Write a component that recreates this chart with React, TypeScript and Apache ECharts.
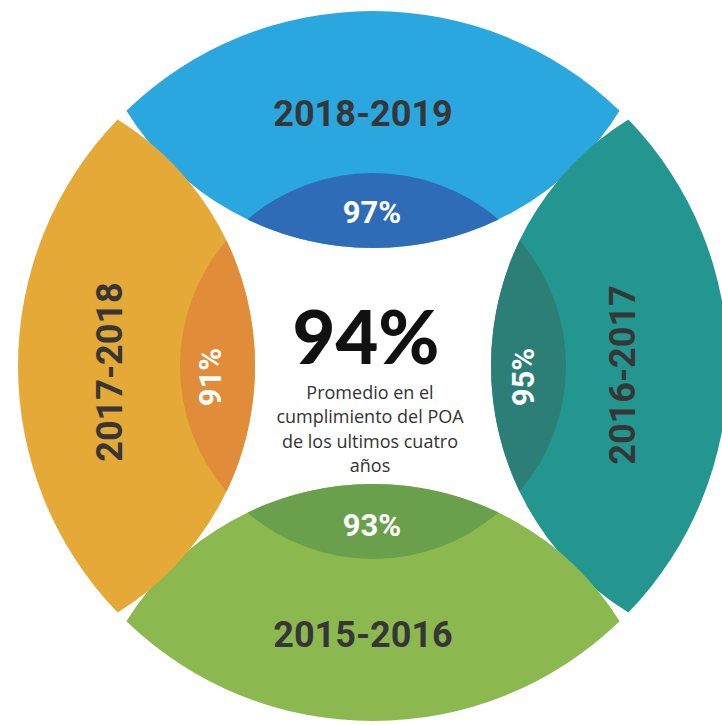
import React, { useEffect, useRef } from 'react';
import * as echarts from 'echarts';

// ---- data ----
const periods = ['2018-2019', '2016-2017', '2015-2016', '2017-2018'];
const compliance = [97, 95, 93, 91];
const average = 94;
const captionLines = ['Promedio en el', 'cumplimiento del POA', 'de los ultimos cuatro', 'años'];

// ---- styles / layout ----
const segmentColors = ['#29a7de', '#23978f', '#8cb94f', '#e5a937'];
const lensColors = ['#2f6cb7', '#2b7f77', '#6a9f4b', '#e08c38'];
const rotationsDeg = [0, 90, 180, 270];
const yearPos = [[363, 114], [623, 375], [363, 635], [110, 372]];
const pctPos = [[372, 212], [523, 377], [372, 525], [210, 377]];

const CX = 373;
const CY = 366;
const R = 355; // outer radius
const R0 = 193; // central circle radius
const H = 118; // distance from centre to inner edge of each segment
const CORNER_DEG = 46; // angle of segment corner from horizontal

const sinC = Math.sin((CORNER_DEG * Math.PI) / 180);
const D = (R * R - H * H) / (2 * (R * sinC - H)); // offset of inner-arc circle
const RHO = D - H; // inner-arc radius
const cornerX = Math.sqrt(R * R - (R * sinC) * (R * sinC));
const cornerY = -R * sinC;
const lensY = (RHO * RHO - R0 * R0 - D * D) / (2 * D);
const lensX = Math.sqrt(R0 * R0 - lensY * lensY);

function rot(x: number, y: number, deg: number): [number, number] {
  const a = (deg * Math.PI) / 180;
  const c = Math.cos(a);
  const s = Math.sin(a);
  return [CX + x * c - y * s, CY + x * s + y * c];
}

function segPath(deg: number) {
  const p1 = rot(-cornerX, cornerY, deg);
  const p2 = rot(cornerX, cornerY, deg);
  return `M ${p1[0]} ${p1[1]} A ${R} ${R} 0 0 1 ${p2[0]} ${p2[1]} A ${RHO} ${RHO} 0 0 1 ${p1[0]} ${p1[1]} Z`;
}

function lensPath(deg: number) {
  const p1 = rot(-lensX, lensY, deg);
  const p2 = rot(lensX, lensY, deg);
  return `M ${p1[0]} ${p1[1]} A ${R0} ${R0} 0 0 1 ${p2[0]} ${p2[1]} A ${RHO} ${RHO} 0 0 1 ${p1[0]} ${p1[1]} Z`;
}

export default function App() {
  const ref = useRef<HTMLDivElement>(null);
  useEffect(() => {
    if (!ref.current) return;
    const chart = echarts.init(ref.current, null, { renderer: 'svg' });
    const option: any = {
      animation: false,
      backgroundColor: '#ffffff',
      series: [
        {
          type: 'custom',
          coordinateSystem: 'none',
          silent: true,
          data: periods.map((p, i) => ({ name: p, value: compliance[i] })),
          renderItem: (params: any) => {
            const i = params.dataIndex;
            const deg = rotationsDeg[i];
            const vertical = deg === 90 || deg === 270;
            return {
              type: 'group',
              children: [
                { type: 'path', shape: { pathData: segPath(deg) }, style: { fill: segmentColors[i] } },
                { type: 'path', shape: { pathData: lensPath(deg) }, style: { fill: lensColors[i] } },
                {
                  type: 'text',
                  x: yearPos[i][0],
                  y: yearPos[i][1],
                  rotation: vertical ? Math.PI / 2 : 0,
                  style: {
                    text: periods[i],
                    fill: '#363636',
                    font: 'bold 36px Roboto',
                    align: 'center',
                    verticalAlign: 'middle',
                  },
                },
                {
                  type: 'text',
                  x: pctPos[i][0],
                  y: pctPos[i][1],
                  rotation: vertical ? Math.PI / 2 : 0,
                  style: {
                    text: `${compliance[i]}%`,
                    fill: '#ffffff',
                    font: 'bold 31px Roboto',
                    align: 'center',
                    verticalAlign: 'middle',
                  },
                },
              ],
            };
          },
        },
      ],
      graphic: [
        {
          type: 'text',
          x: 366,
          y: 335,
          style: {
            text: `${average}%`,
            fill: '#111111',
            font: '900 74px Lato',
            align: 'center',
            verticalAlign: 'middle',
          },
        },
        ...captionLines.map((t, k) => ({
          type: 'text',
          x: 370,
          y: 392 + k * 24.3,
          style: {
            text: t,
            fill: '#333333',
            font: '18px "Open Sans"',
            align: 'center',
            verticalAlign: 'middle',
          },
        })),
      ],
    };
    chart.setOption(option);
    return () => chart.dispose();
  }, []);
  return (
    <div
      ref={ref}
      style={{ position: 'fixed', left: 0, top: 0, width: 722, height: 725, background: '#fff' }}
    />
  );
}
